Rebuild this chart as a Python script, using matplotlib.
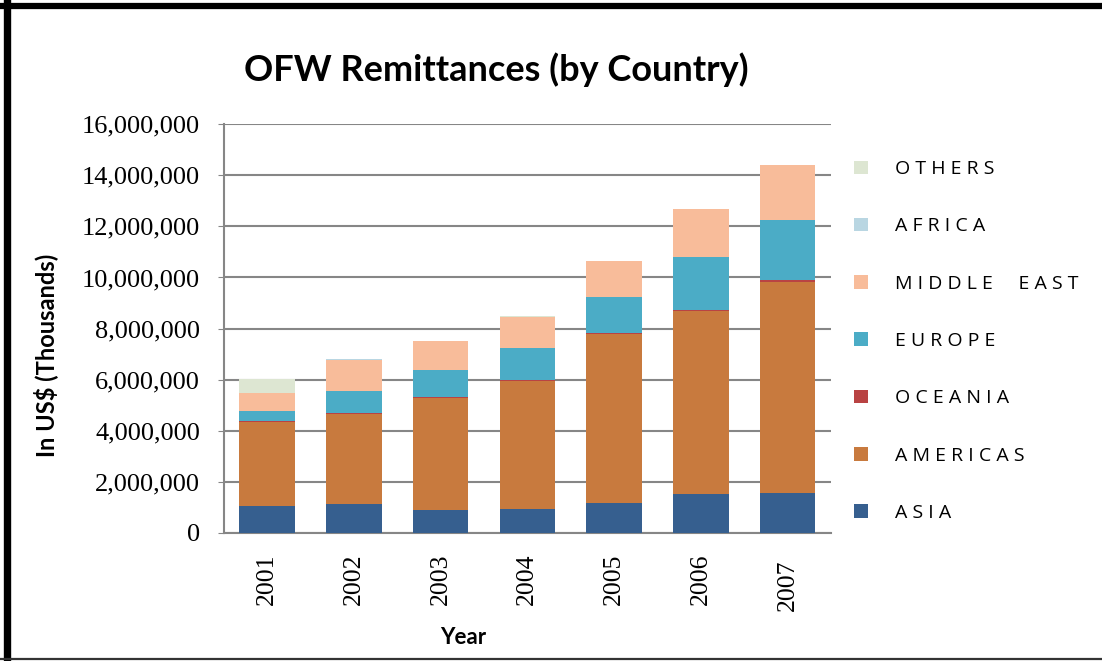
import matplotlib.pyplot as plt
import numpy as np
from matplotlib.lines import Line2D

# remittances in thousands of US$
years = ["2001", "2002", "2003", "2004", "2005", "2006", "2007"]
asia = [1030, 1110, 890, 930, 1170, 1500, 1540]
americas = [3320, 3550, 4380, 5030, 6620, 7180, 8280]
oceania = [20, 25, 30, 35, 40, 60, 80]
europe = [390, 860, 1060, 1240, 1390, 2080, 2340]
middle_east = [700, 1240, 1150, 1230, 1410, 1870, 2150]
africa = [30, 5, 5, 5, 5, 5, 5]
others = [520, 5, 5, 5, 5, 5, 5]
yticks = [0, 2000000, 4000000, 6000000, 8000000, 10000000, 12000000, 14000000, 16000000]

regions = ["ASIA", "AMERICAS", "OCEANIA", "EUROPE", "MIDDLE EAST", "AFRICA", "OTHERS"]
series = [asia, americas, oceania, europe, middle_east, africa, others]
colors = ["#365f8f", "#c87a3e", "#b94343", "#4bacc6", "#f8bc9a", "#b9d6e2", "#dde6d2"]

fig = plt.figure(figsize=(11.02, 6.61), dpi=100)
ax = fig.add_axes([0.203, 0.194, 0.551, 0.618])

x = np.arange(len(years))
bottom = np.zeros(len(years))
handles = []
for name, vals, c in zip(regions, series, colors):
    v = np.array(vals) * 1000.0
    b = ax.bar(x, v, 0.64, bottom=bottom, color=c, label=name, zorder=3)
    handles.append(b)
    bottom += v

ax.set_ylim(0, 16000000)
ax.set_xlim(-0.5, 6.5)
ax.set_yticks(yticks)
ax.set_yticklabels([f"{t:,}" for t in yticks], fontsize=19, family="Liberation Serif")
ax.grid(axis="y", color="#868686", linewidth=1.5, zorder=0)
for s in ["top", "right"]:
    ax.spines[s].set_visible(False)
for s in ["left", "bottom"]:
    ax.spines[s].set_color("#868686")
    ax.spines[s].set_linewidth(1.5)
ax.tick_params(axis="y", length=4, color="#868686", pad=13)
ax.tick_params(axis="x", length=0, pad=15)
ax.set_xticks(x)
ax.set_xticklabels(years, rotation=90, fontsize=18.5, family="Liberation Serif", va="top")
ax.get_xticklabels()[-1].set_y(-0.015)

fig.text(0.45, 0.894, "OFW Remittances (by Country)", ha="center", va="center",
         fontsize=26, fontweight="bold", family="Lato")
fig.text(0.041, 0.462, "In US$ (Thousands)", rotation=90, ha="center", va="center",
         fontsize=17, fontweight="bold", family="Lato")
fig.text(0.42, 0.036, "Year", ha="center", va="center",
         fontsize=16, fontweight="bold", family="Lato")

# letter-spaced legend labels, top entry first
spaced = ["  ".join(n.split(" ")) for n in regions]
spaced = [" ".join(list(n)) for n in spaced]
leg = ax.legend(handles[::-1], spaced[::-1], loc="upper left",
                bbox_to_anchor=(1.01, 0.955), frameon=False, handlelength=0.7,
                handleheight=0.7, handletextpad=1.4, labelspacing=2.02,
                prop={"family": "Open Sans", "size": 14})

# frame lines on the left, top and bottom edges
fig.add_artist(Line2D([6.5 / 1102, 6.5 / 1102], [0, 1 - 3 / 661], color="black",
                      linewidth=5.3, transform=fig.transFigure))
fig.add_artist(Line2D([3 / 1102, 1], [1 - 6 / 661, 1 - 6 / 661], color="black",
                      linewidth=4.5, transform=fig.transFigure))
fig.add_artist(Line2D([0, 1], [2 / 661, 2 / 661], color="#333333",
                      linewidth=1.6, transform=fig.transFigure))

fig.savefig("out.png", dpi=100)
